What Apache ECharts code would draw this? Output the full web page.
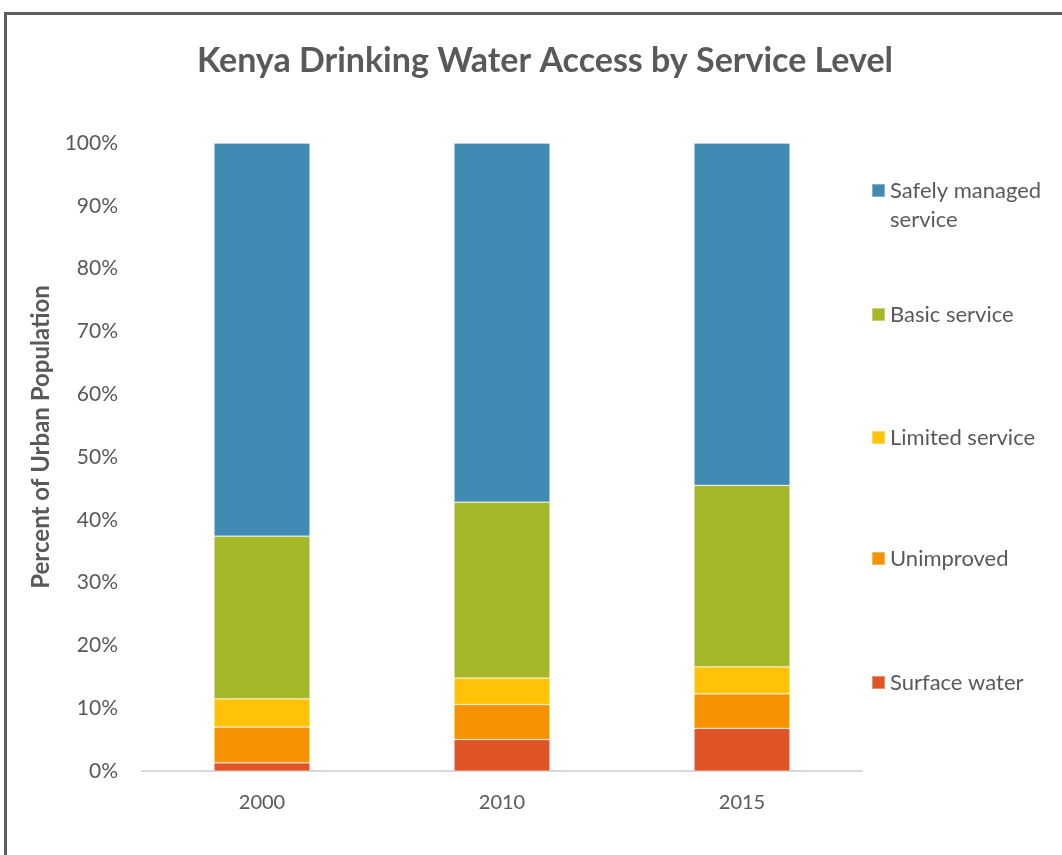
<!DOCTYPE html>
<html>
<head>
<meta charset="utf-8">
<title>Kenya Drinking Water Access by Service Level</title>
<script src="https://cdn.jsdelivr.net/npm/echarts@6/dist/echarts.min.js"></script>
<style>
  html, body { margin: 0; padding: 0; background: #fff; }
  #chart { width: 1062px; height: 855px; }
</style>
</head>
<body>
<div id="chart"></div>
<script>
// Survey years on the x axis
const years = ['2000', '2010', '2015'];

// Share of urban population (%) by drinking-water service level, bottom to top
const surfaceWater   = [1.3, 5.0, 6.8];
const unimproved     = [5.7, 5.6, 5.5];
const limitedService = [4.5, 4.2, 4.3];
const basicService   = [25.9, 28.0, 28.9];
const safelyManaged  = [62.6, 57.2, 54.5];

// Y axis tick values (percent)
const yTicks = [0, 10, 20, 30, 40, 50, 60, 70, 80, 90, 100];

const seriesDefs = [
  { name: 'Surface water', data: surfaceWater, color: '#DF5327' },
  { name: 'Unimproved', data: unimproved, color: '#F69200' },
  { name: 'Limited service', data: limitedService, color: '#FEC306' },
  { name: 'Basic service', data: basicService, color: '#A6B727' },
  { name: 'Safely managed service', data: safelyManaged, color: '#418AB3' }
];

const FONT = 'Lato, "Open Sans", sans-serif';
const TEXT = '#595959';
const LEGEND_LH = 29;

// One legend block per series so each entry sits at its own height on the right
const legendTops = {
  'Safely managed service': 142,
  'Basic service': 295,
  'Limited service': 418,
  'Unimproved': 539,
  'Surface water': 663
};

const legends = Object.keys(legendTops).map(function (name) {
  const twoLine = name === 'Safely managed service';
  return {
    data: [name],
    left: 866,
    top: legendTops[name],
    orient: 'vertical',
    icon: 'rect',
    itemWidth: 13,
    itemHeight: 13,
    selectedMode: false,
    // leading blank line keeps the swatch level with the first text line
    formatter: twoLine ? ' \nSafely managed\nservice' : '{name}',
    textStyle: {
      fontFamily: FONT,
      fontSize: 22,
      color: TEXT,
      lineHeight: LEGEND_LH
    }
  };
});

const chart = echarts.init(document.getElementById('chart'), null, { renderer: 'canvas' });

chart.setOption({
  backgroundColor: '#ffffff',
  animation: false,
  title: {
    text: 'Kenya Drinking Water Access by Service Level',
    left: 540,
    textAlign: 'center',
    top: 39,
    textStyle: {
      fontFamily: FONT,
      fontSize: 34,
      fontWeight: 'bold',
      color: TEXT
    }
  },
  graphic: [{
    type: 'rect',
    shape: { x: 5.5, y: 13.5, width: 1200, height: 1000 },
    style: { fill: 'none', stroke: '#5f5f5f', lineWidth: 3 },
    silent: true
  }],
  legend: legends,
  grid: { left: 142, right: 200, top: 143, bottom: 84, containLabel: false },
  xAxis: {
    type: 'category',
    data: years,
    axisLine: { show: true, lineStyle: { color: '#D9D9D9', width: 2 } },
    axisTick: { show: false },
    axisLabel: {
      fontFamily: FONT,
      fontSize: 20,
      color: TEXT,
      margin: 22
    }
  },
  yAxis: {
    type: 'value',
    min: yTicks[0],
    max: yTicks[yTicks.length - 1],
    interval: yTicks[1] - yTicks[0],
    name: 'Percent of Urban Population',
    nameLocation: 'middle',
    nameGap: 86,
    nameRotate: 90,
    nameTextStyle: {
      fontFamily: FONT,
      fontSize: 24,
      fontWeight: 'bold',
      color: TEXT,
      // nudges the rotated title a little above the plot's mid-height
      padding: [0, 0, 0, 40]
    },
    axisLine: { show: false },
    axisTick: { show: false },
    splitLine: { show: false },
    axisLabel: {
      fontFamily: FONT,
      fontSize: 21,
      color: TEXT,
      margin: 24,
      formatter: '{value}%'
    }
  },
  series: seriesDefs.map(function (s) {
    return {
      name: s.name,
      type: 'bar',
      stack: 'total',
      barWidth: '40%',
      data: s.data,
      itemStyle: {
        color: s.color,
        borderColor: 'rgba(255,255,255,0.35)',
        borderWidth: 0.75
      }
    };
  })
});
</script>
</body>
</html>
